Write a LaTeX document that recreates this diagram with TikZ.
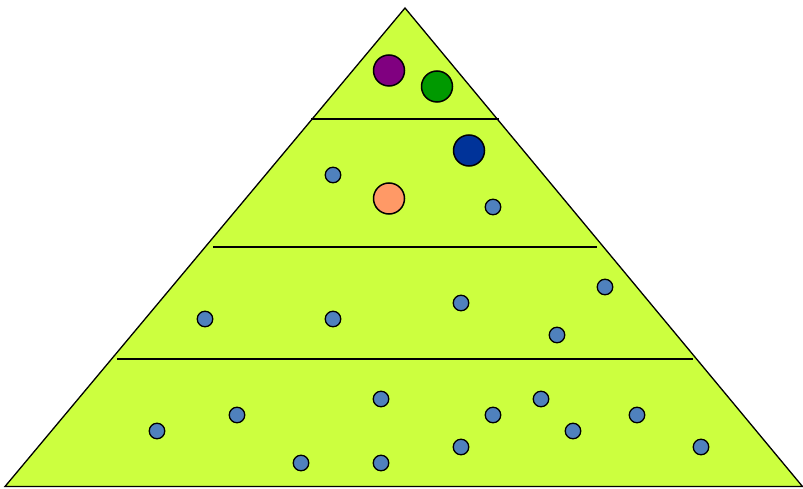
\documentclass[tikz,border=0pt]{standalone}
\definecolor{pyrfill}{HTML}{CCFF3F}
\definecolor{dotblue}{HTML}{4F81BD}
\definecolor{bpurple}{HTML}{800080}
\definecolor{bgreen}{HTML}{009900}
\definecolor{bblue}{HTML}{003399}
\definecolor{borange}{HTML}{FF9966}
\begin{document}
\begin{tikzpicture}[x=1pt,y=-1pt,
  dot/.style={circle,draw=black,line width=1.3pt,fill=dotblue,minimum size=15.5pt,inner sep=0pt},
  big/.style={circle,draw=black,line width=1.5pt,minimum size=31pt,inner sep=0pt},
  tier/.style={line width=1.3pt}]
\useasboundingbox (0,0) rectangle (803,489);
\draw[fill=pyrfill,line width=1.3pt,line join=miter] (5,486.5) -- (405,8) -- (802.5,486.5) -- cycle;
\draw[tier] (311,119) -- (499,119);
\draw[tier] (213,247) -- (597,247);
\draw[tier] (117,359) -- (693,359);
\node[big,fill=bpurple] (p) at (389,70.5) {};
\node[big,fill=bgreen] (g) at (437,86.5) {};
\node[big,fill=bblue] (b) at (469,150.5) {};
\node[big,fill=borange] (o) at (389,198.5) {};
\foreach \n/\x/\y in {d1/333/175, d2/493/207, d3/205/319, d4/333/319, d5/461/303, d6/605/287, d7/557/335,
  d8/157/431, d9/237/415, d10/381/399, d11/301/463, d12/381/463, d13/461/447, d14/493/415, d15/541/399,
  d16/573/431, d17/637/415, d18/701/447}
  \node[dot] (\n) at (\x,\y) {};
\end{tikzpicture}
\end{document}
